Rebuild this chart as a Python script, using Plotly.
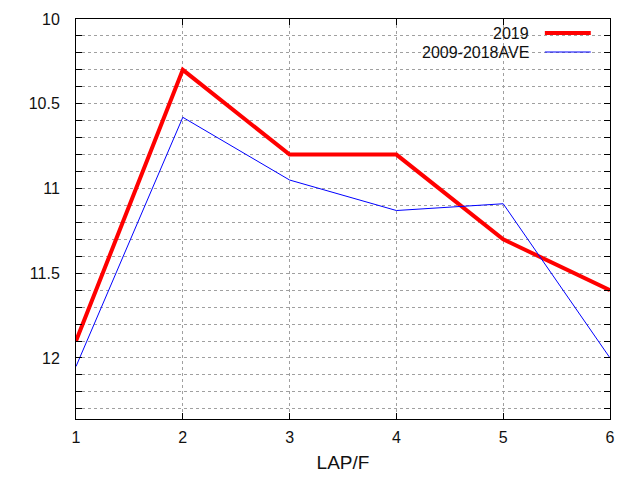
import plotly.graph_objects as go

laps = [1, 2, 3, 4, 5, 6]
times_2019 = [11.9, 10.3, 10.8, 10.8, 11.3, 11.6]
times_ave = [12.05, 10.58, 10.95, 11.13, 11.09, 12.0]
names = ["2019", "2009-2018AVE"]
colors = ["#ff0000", "#0000ff"]
widths = [4, 1]

fig = go.Figure()
for ys, name, c, w in zip([times_2019, times_ave], names, colors, widths):
    fig.add_trace(go.Scatter(x=laps, y=ys, mode="lines", name=name,
                             line=dict(color=c, width=w), showlegend=False))

# gnuplot-style key: text on the left, line sample on the right
fig.add_shape(type="rect", xref="paper", yref="paper", x0=0.629, x1=0.978,
              y0=0.8925, y1=0.9875, fillcolor="white", line_width=0, layer="between")
key_y = [0.965, 0.9175]
for ky, name, c, w in zip(key_y, names, colors, widths):
    fig.add_annotation(xref="paper", yref="paper", x=0.852, y=ky, text=name,
                       showarrow=False, xanchor="right", yanchor="middle",
                       font=dict(size=16, color="#111111"))
    fig.add_shape(type="line", xref="paper", yref="paper", x0=0.878, x1=0.964,
                  y0=ky, y1=ky, line=dict(color=c, width=w))

grid = dict(showgrid=True, gridcolor="#a0a0a0", griddash="dot", gridwidth=1,
            showline=True, linecolor="black", linewidth=1, mirror="ticks",
            ticks="inside", ticklen=6, tickcolor="black", zeroline=False,
            automargin=False)

fig.update_xaxes(range=[1, 6], dtick=1, tickvals=laps, ticklabelstandoff=4,
                 title=dict(text="LAP/F", standoff=10), **grid)
fig.update_yaxes(range=[12.36, 10], tickvals=[10, 10.5, 11, 11.5, 12],
                 ticktext=["10", "10.5", "11", "11.5", "12"], ticklabelstandoff=12,
                 minor=dict(dtick=0.1, tick0=10, showgrid=True, gridcolor="#a0a0a0",
                            griddash="dot", ticks="inside", ticklen=6, tickcolor="black"),
                 **grid)

# page body adds 8px, so margins are shifted to keep the plot box in place
fig.update_layout(width=640, height=480, paper_bgcolor="white", plot_bgcolor="white",
                  margin=dict(l=68, r=38, t=11, b=69),
                  font=dict(family="Liberation Sans, Arial, sans-serif", size=16, color="#111111"))

fig.write_html("out.html")
